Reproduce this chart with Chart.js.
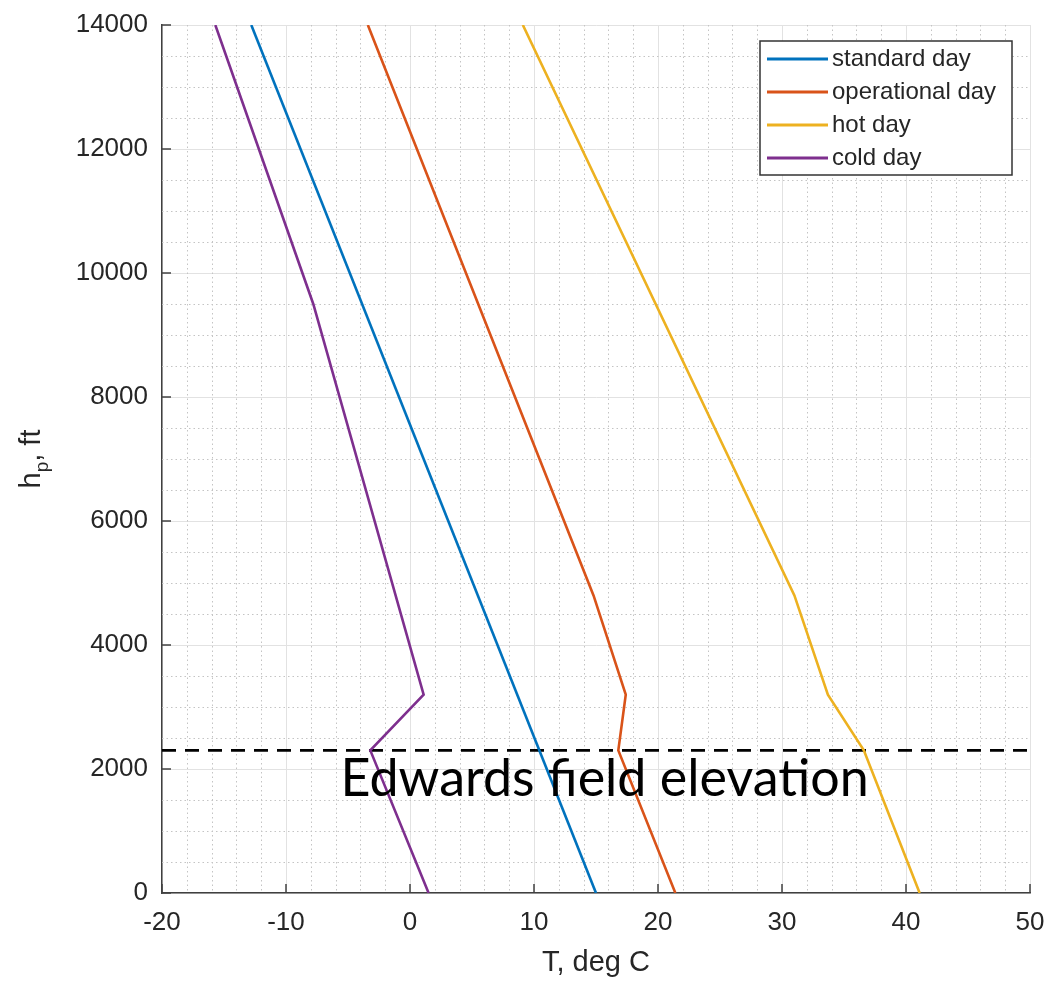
<!DOCTYPE html>
<html>
<head>
<meta charset="utf-8">
<title>Temperature vs pressure altitude</title>
<script src="https://cdn.jsdelivr.net/npm/chart.js@4/dist/chart.umd.min.js"></script>
<style>
  html, body { margin: 0; padding: 0; background: #fff; }
  #wrap { width: 1048px; height: 981px; }
</style>
</head>
<body>
<div id="wrap"><canvas id="atmoChart" width="1048" height="981"></canvas></div>
<script>
// data (T in deg C vs pressure altitude in ft)
const seriesNames = ['standard day', 'operational day', 'hot day', 'cold day'];
const seriesColors = ['#0072BD', '#D95319', '#EDB120', '#7E2F8E'];

const standardAlt = [0, 14000];
const standardTemp = [15.0, -12.8];

const operationalAlt = [0, 2300, 3200, 4800, 14000];
const operationalTemp = [21.4, 16.8, 17.4, 14.8, -3.4];

const hotAlt = [0, 2300, 3200, 4800, 14000];
const hotTemp = [41.1, 36.6, 33.7, 31.0, 9.1];

const coldAlt = [0, 2300, 3200, 9500, 14000];
const coldTemp = [1.5, -3.2, 1.1, -7.8, -15.7];

const fieldElevation = 2300;
const fieldLabel = 'Edwards field elevation';

const xRange = [-20, 50];
const yRange = [0, 14000];
const xMajorStep = 10, xMinorStep = 2;
const yMajorStep = 2000, yMinorStep = 500;

function toPoints(temps, alts) {
    return temps.map((t, i) => ({ x: t, y: alts[i] }));
}

const TEXT = '#262626';
const TICK_FONT = '"Liberation Sans", Arial, Helvetica, sans-serif';

// minor dotted grid, drawn under the data
const minorGrid = {
    id: 'minorGrid',
    beforeDatasetsDraw(chart) {
        const { ctx, chartArea: a, scales: { x, y } } = chart;
        ctx.save();
        ctx.strokeStyle = '#c4c4c4';
        ctx.lineWidth = 1;
        ctx.setLineDash([1.5, 3]);
        for (let v = xRange[0]; v <= xRange[1]; v += xMinorStep) {
            if (v % xMajorStep === 0) continue;
            const px = Math.round(x.getPixelForValue(v)) + 0.5;
            ctx.beginPath(); ctx.moveTo(px, a.top); ctx.lineTo(px, a.bottom); ctx.stroke();
        }
        for (let v = yRange[0]; v <= yRange[1]; v += yMinorStep) {
            if (v % yMajorStep === 0) continue;
            const py = Math.round(y.getPixelForValue(v)) + 0.5;
            ctx.beginPath(); ctx.moveTo(a.left, py); ctx.lineTo(a.right, py); ctx.stroke();
        }
        ctx.restore();
    }
};

// inward ticks, annotation text, y title and legend box
const decorations = {
    id: 'decorations',
    afterDatasetsDraw(chart) {
        const { ctx, chartArea: a, scales: { x, y } } = chart;
        ctx.save();

        // text label under the dashed line
        ctx.fillStyle = '#000';
        ctx.font = '52px Lato, "Open Sans", sans-serif';
        ctx.textAlign = 'left';
        ctx.textBaseline = 'alphabetic';
        ctx.fillText(fieldLabel, x.getPixelForValue(-5.6), y.getPixelForValue(1570));

        // inward tick marks
        ctx.strokeStyle = '#404040';
        ctx.lineWidth = 1.5;
        x.ticks.forEach(t => {
            const px = x.getPixelForValue(t.value);
            ctx.beginPath(); ctx.moveTo(px, a.bottom); ctx.lineTo(px, a.bottom - 9); ctx.stroke();
        });
        y.ticks.forEach(t => {
            const py = y.getPixelForValue(t.value);
            ctx.beginPath(); ctx.moveTo(a.left, py); ctx.lineTo(a.left + 9, py); ctx.stroke();
        });

        // y axis title with subscript p
        ctx.translate(40, (a.top + a.bottom) / 2);
        ctx.rotate(-Math.PI / 2);
        ctx.fillStyle = TEXT;
        ctx.textAlign = 'left';
        const big = '29px ' + TICK_FONT, small = '19px ' + TICK_FONT;
        ctx.font = big; const wH = ctx.measureText('h').width;
        ctx.font = small; const wP = ctx.measureText('p').width;
        ctx.font = big; const wRest = ctx.measureText(', ft').width;
        let cx = -(wH + wP + wRest) / 2;
        ctx.font = big; ctx.fillText('h', cx, 0); cx += wH;
        ctx.font = small; ctx.fillText('p', cx, 8); cx += wP;
        ctx.font = big; ctx.fillText(', ft', cx, 0);
        ctx.setTransform(1, 0, 0, 1, 0, 0);

        // legend box, top right inside the axes
        const bx = a.right - 270, by = a.top + 16, bw = 252, bh = 134;
        ctx.fillStyle = '#fff';
        ctx.fillRect(bx, by, bw, bh);
        ctx.strokeStyle = '#333';
        ctx.lineWidth = 1.5;
        ctx.strokeRect(bx, by, bw, bh);
        ctx.font = '24px ' + TICK_FONT;
        ctx.textBaseline = 'middle';
        seriesNames.forEach((name, i) => {
            const ly = by + 18 + i * 33;
            ctx.strokeStyle = seriesColors[i];
            ctx.lineWidth = 3;
            ctx.beginPath(); ctx.moveTo(bx + 7, ly); ctx.lineTo(bx + 68, ly); ctx.stroke();
            ctx.fillStyle = TEXT;
            ctx.fillText(name, bx + 72, ly);
        });
        ctx.restore();
    }
};

function buildDatasets() {
    const sets = [
        [standardTemp, standardAlt],
        [operationalTemp, operationalAlt],
        [hotTemp, hotAlt],
        [coldTemp, coldAlt]
    ].map(([t, h], i) => ({
        label: seriesNames[i],
        data: toPoints(t, h),
        borderColor: seriesColors[i],
        backgroundColor: seriesColors[i],
        borderWidth: 2.6,
        pointRadius: 0,
        tension: 0,
        fill: false
    }));
    sets.push({
        label: 'field elevation',
        data: [{ x: xRange[0], y: fieldElevation }, { x: xRange[1], y: fieldElevation }],
        borderColor: '#000',
        borderWidth: 2.6,
        borderDash: [14, 9],
        pointRadius: 0,
        fill: false
    });
    return sets;
}

document.addEventListener('DOMContentLoaded', function() {
    const ctx = document.getElementById('atmoChart').getContext('2d');
    new Chart(ctx, {
        type: 'line',
        data: { datasets: buildDatasets() },
        options: {
            responsive: false,
            animation: false,
            devicePixelRatio: 1,
            layout: { autoPadding: false, padding: { top: 25, right: 18, left: 0, bottom: 0 } },
            plugins: { legend: { display: false }, tooltip: { enabled: false } },
            scales: {
                x: {
                    type: 'linear',
                    min: xRange[0], max: xRange[1],
                    ticks: { stepSize: xMajorStep, color: TEXT, padding: 14,
                             font: { family: TICK_FONT, size: 26 },
                             callback: v => String(v) },
                    grid: { color: '#e2e2e2', lineWidth: 1, drawTicks: false },
                    border: { color: '#404040', width: 1.5 },
                    title: { display: true, text: 'T, deg C', color: TEXT,
                             font: { family: TICK_FONT, size: 29 }, padding: { top: 0, bottom: 1 } },
                    afterFit: s => { s.height = 88; s.paddingLeft = 0; s.paddingRight = 0; }
                },
                y: {
                    type: 'linear',
                    min: yRange[0], max: yRange[1],
                    ticks: { stepSize: yMajorStep, color: TEXT, padding: 14,
                             font: { family: TICK_FONT, size: 26 },
                             callback: v => String(v) },
                    grid: { color: '#e2e2e2', lineWidth: 1, drawTicks: false },
                    border: { color: '#404040', width: 1.5 },
                    afterFit: s => { s.width = 162; s.paddingTop = 0; s.paddingBottom = 0; }
                }
            }
        },
        plugins: [minorGrid, decorations]
    });
});
</script>
</body>
</html>
